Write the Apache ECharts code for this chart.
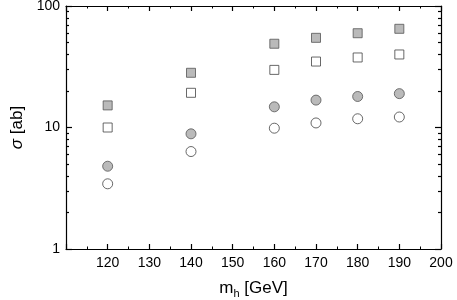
<!DOCTYPE html>
<html><head><meta charset="utf-8">
<script src="https://cdn.jsdelivr.net/npm/echarts@6/dist/echarts.min.js"></script>
<style>html,body{margin:0;padding:0;background:#fff}#c{width:457px;height:300px}</style>
</head><body><div id="c"></div>
<script>
const masses = [120, 140, 160, 170, 180, 190];
const filledSquares = [15.2, 28.2, 48.9, 54.7, 59.7, 64.9];
const openSquares = [10.0, 19.3, 29.8, 34.9, 37.7, 39.9];
const filledCircles = [4.8, 8.87, 14.8, 16.8, 18.0, 19.0];
const openCircles = [3.44, 6.34, 9.87, 10.9, 11.8, 12.2];
const yMajorTicks = [1, 10, 100];
const yMinorTicks = [2,3,4,5,6,7,8,9,20,30,40,50,60,70,80,90];

const font = 'Liberation Sans, Arial, Helvetica, sans-serif';
const pair = (ys) => masses.map((m, i) => [m, ys[i]]);
const lineStyle = {color: '#000', width: 1.2};

function xAx(pos, labels) {
  return {
    type: 'value', position: pos, min: 110, max: 200, interval: 10,
    axisLine: {show: true, onZero: false, lineStyle},
    axisTick: {show: true, inside: true, length: 5, lineStyle},
    minorTick: {show: true, splitNumber: 2, length: 2.5, lineStyle: {color: '#000', width: 1}},
    splitLine: {show: false}, minorSplitLine: {show: false},
    axisLabel: {show: labels, showMinLabel: false, color: '#000', fontSize: 14, fontFamily: font, margin: 7},
    name: labels ? 'm{s|h} [GeV]' : '',
    nameLocation: 'middle', nameGap: 29,
    nameTextStyle: {color: '#000', fontSize: 17, fontFamily: font,
      rich: {s: {fontSize: 11, fontFamily: font, color: '#000', padding: [10, 0, 0, 0]}}}
  };
}
function yAx(pos, values, len, labels, lineShow) {
  return {
    type: 'log', logBase: 10, position: pos, min: 1, max: 100,
    axisLine: {show: lineShow, onZero: false, lineStyle},
    axisTick: {show: true, inside: true, length: len, customValues: values, lineStyle},
    splitLine: {show: false},
    axisLabel: {show: labels, color: '#000', fontSize: 14, fontFamily: font, margin: 6, customValues: yMajorTicks},
    name: labels ? '{i|σ} [ab]' : '',
    nameLocation: 'middle', nameGap: 38, nameRotate: 90,
    nameTextStyle: {color: '#000', fontSize: 17, fontFamily: font,
      rich: {i: {fontSize: 17, fontStyle: 'italic', fontFamily: font, color: '#000'}}}
  };
}

const chart = echarts.init(document.getElementById('c'), null, {renderer: 'canvas'});
chart.setOption({
  backgroundColor: '#fff',
  animation: false,
  grid: {left: 66, right: 16, top: 6, bottom: 51, containLabel: false, outerBoundsMode: 'none'},
  xAxis: [xAx('bottom', true), xAx('top', false)],
  yAxis: [
    yAx('left', yMajorTicks, 6, true, true),
    yAx('left', yMinorTicks, 3, false, false),
    yAx('right', yMajorTicks, 6, false, true),
    yAx('right', yMinorTicks, 3, false, false)
  ],
  series: [
    {type: 'scatter', data: pair(filledSquares), symbol: 'rect', symbolSize: 9,
     itemStyle: {color: '#a9a9a9', borderColor: '#555', borderWidth: 1}},
    {type: 'scatter', data: pair(openSquares), symbol: 'rect', symbolSize: 9,
     itemStyle: {color: '#fff', borderColor: '#444', borderWidth: 1}},
    {type: 'scatter', data: pair(filledCircles), symbol: 'circle', symbolSize: 10,
     itemStyle: {color: '#a9a9a9', borderColor: '#555', borderWidth: 1}},
    {type: 'scatter', data: pair(openCircles), symbol: 'circle', symbolSize: 10,
     itemStyle: {color: '#fff', borderColor: '#444', borderWidth: 1}}
  ]
});
</script></body></html>
